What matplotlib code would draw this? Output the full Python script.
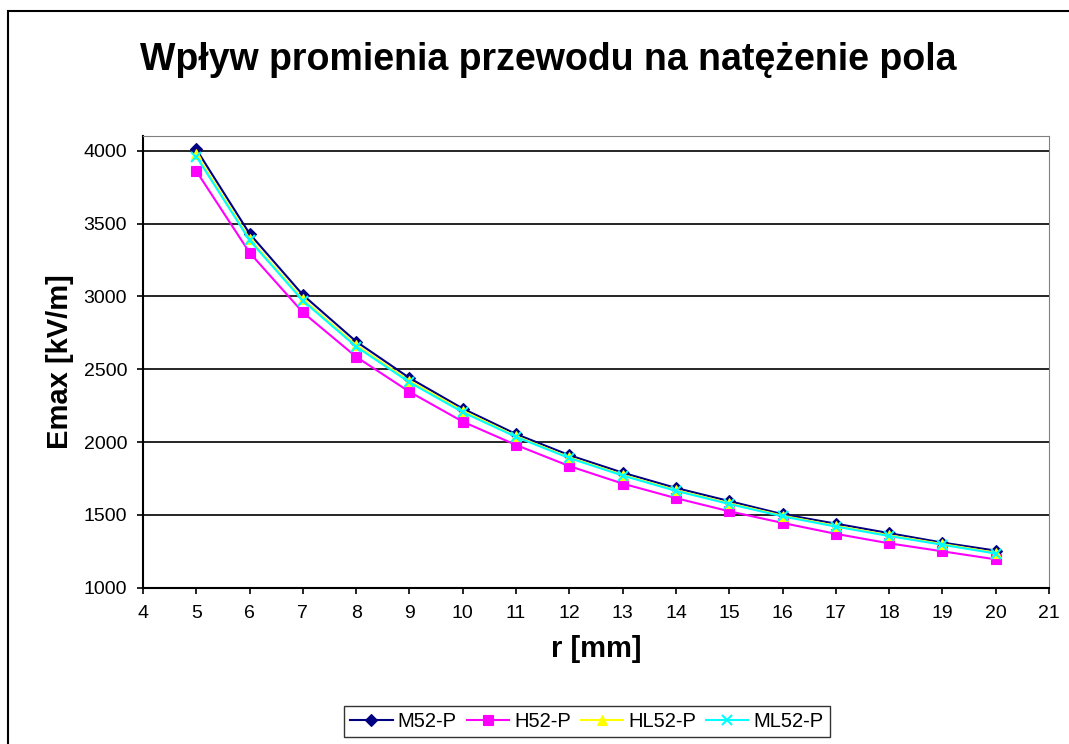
import matplotlib
matplotlib.use("Agg")
import matplotlib.pyplot as plt
from matplotlib.patches import Rectangle

# Promien przewodu [mm]
r_mm = list(range(5, 21))

# Emax [kV/m] for each conductor type
m52_p = [4010, 3430, 3010, 2690, 2440, 2230, 2055, 1910, 1790, 1685, 1595, 1505, 1440, 1375, 1310, 1255]
h52_p = [3860, 3300, 2890, 2585, 2345, 2140, 1980, 1835, 1715, 1615, 1525, 1445, 1370, 1305, 1250, 1195]
hl52_p = [3975, 3395, 2980, 2665, 2420, 2215, 2040, 1895, 1775, 1670, 1580, 1495, 1425, 1360, 1300, 1240]
ml52_p = [3960, 3385, 2970, 2655, 2410, 2205, 2035, 1890, 1770, 1665, 1575, 1490, 1420, 1355, 1295, 1235]

series = [
    ("M52-P", m52_p, "#000080", "D", 6.5),
    ("H52-P", h52_p, "#ff00ff", "s", 6.5),
    ("HL52-P", hl52_p, "#ffff00", "^", 7.5),
    ("ML52-P", ml52_p, "#00ffff", "x", 6.5),
]

plt.rcParams["font.family"] = ["Liberation Sans", "DejaVu Sans"]

fig = plt.figure(figsize=(10.69, 7.44), dpi=100)
ax = fig.add_axes([0.1338, 0.21, 0.8475, 0.607])

for name, vals, col, mk, ms in series:
    ax.plot(r_mm, vals, color=col, marker=mk, markersize=ms, linewidth=1.5,
            markeredgewidth=1.5 if mk == "x" else 0.8, label=name)

ax.set_xlim(4, 21)
ax.set_ylim(1000, 4100)
ax.set_xticks(range(4, 22))
ax.set_yticks(range(1000, 4001, 500))
ax.tick_params(labelsize=14, direction="out", length=4.5, width=1.2)
ax.tick_params(axis="x", pad=8)
ax.tick_params(axis="y", pad=7)
ax.yaxis.grid(True, color="black", linewidth=1.2)
ax.set_axisbelow(True)

for side in ["top", "right"]:
    ax.spines[side].set_color("#808080")
for side in ["left", "bottom"]:
    ax.spines[side].set_linewidth(1.5)

ax.set_xlabel("r [mm]", fontsize=21, fontweight="bold", labelpad=9)
ax.set_ylabel("Emax [kV/m]", fontsize=21, fontweight="bold", labelpad=7)
fig.text(0.513, 0.92, "Wpływ promienia przewodu na natężenie pola", ha="center",
         va="center", fontsize=27, fontweight="bold")

leg = fig.legend(loc="lower center", bbox_to_anchor=(0.549, -0.004), ncol=4, fontsize=14.5,
                 frameon=True, fancybox=False, edgecolor="black", handlelength=2.1,
                 columnspacing=0.5, borderpad=0.3, handletextpad=0.25)
leg.get_frame().set_linewidth(1.0)

# outer chart border (only left and top edges are inside the picture)
fig.patches.append(Rectangle((8 / 1069, -0.1), 1.2, 0.1 + 1 - 11 / 744,
                             transform=fig.transFigure, fill=False,
                             edgecolor="black", linewidth=1.5))

fig.savefig("out.png", dpi=100)
